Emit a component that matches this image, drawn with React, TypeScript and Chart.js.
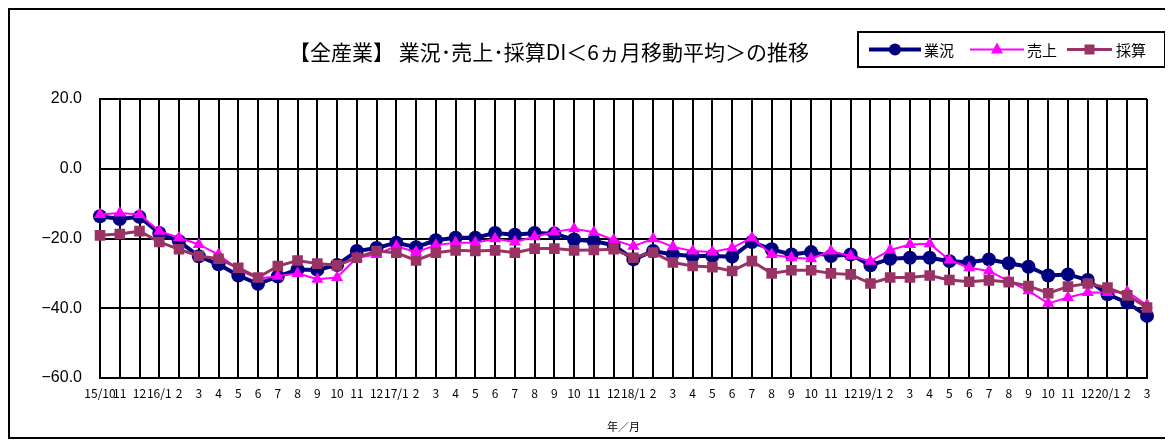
import React, { useEffect, useRef } from 'react';
import { Chart, registerables } from 'chart.js';

Chart.register(...registerables);

const labels = [
  '15/10', '11', '12',
  '16/1', '2', '3', '4', '5', '6', '7', '8', '9', '10', '11', '12',
  '17/1', '2', '3', '4', '5', '6', '7', '8', '9', '10', '11', '12',
  '18/1', '2', '3', '4', '5', '6', '7', '8', '9', '10', '11', '12',
  '19/1', '2', '3', '4', '5', '6', '7', '8', '9', '10', '11', '12',
  '20/1', '2', '3',
];

const gyokyo = [
  -13.6, -14.4, -13.8, -18.4, -20.8, -25.1, -27.4, -30.6, -33.0, -30.9,
  -28.9, -29.0, -27.6, -23.6, -22.7, -21.2, -22.5, -20.5, -19.8, -19.8,
  -18.4, -18.9, -18.4, -18.6, -20.3, -20.8, -21.9, -26.0, -23.6, -24.6,
  -25.0, -25.0, -25.2, -21.0, -23.1, -24.6, -23.9, -25.0, -24.6, -27.7,
  -25.8, -25.5, -25.5, -26.5, -26.8, -26.0, -27.1, -28.1, -30.6, -30.3,
  -31.9, -36.0, -38.4, -42.2,
];

const uriage = [
  -13.1, -12.7, -13.1, -17.9, -19.8, -21.7, -24.6, -28.9, -31.5, -30.8,
  -30.0, -31.7, -31.2, -25.5, -24.6, -22.2, -23.9, -21.9, -21.2, -21.2,
  -20.1, -21.0, -19.5, -18.1, -17.2, -18.2, -20.4, -22.2, -20.1, -22.4,
  -23.6, -23.9, -22.7, -19.8, -24.6, -25.5, -25.8, -23.6, -25.0, -26.5,
  -23.3, -21.7, -21.5, -26.2, -28.4, -29.3, -32.2, -35.0, -38.6, -36.9,
  -35.5, -35.5, -35.3, -39.1,
];

const saisan = [
  -19.1, -18.7, -17.9, -21.0, -23.1, -25.0, -25.8, -28.4, -31.2, -27.9,
  -26.3, -27.2, -27.7, -25.5, -23.6, -24.1, -26.3, -24.1, -23.4, -23.6,
  -23.4, -24.1, -22.9, -22.9, -23.4, -23.3, -23.1, -25.5, -24.0, -26.9,
  -27.9, -28.2, -29.3, -26.5, -30.0, -29.1, -29.1, -30.0, -30.3, -32.9,
  -31.2, -31.2, -30.6, -31.9, -32.4, -32.0, -32.5, -33.6, -35.7, -33.8,
  -32.9, -34.1, -36.3, -39.8,
];

const seriesNames = ['業況', '売上', '採算'];
const titleText = '【全産業】 業況･売上･採算DI＜6ヵ月移動平均＞の推移';
const xTitle = '年／月';

const NAVY = '#000080';
const MAGENTA = '#FF00FF';
const PLUM = '#993366';
const JP = '"Noto Sans CJK JP", "Noto Sans", sans-serif';

const W = 1165;
const H = 433;

const decorPlugin = {
  id: 'decor',
  afterDraw(chart: any) {
    const ctx = chart.ctx as CanvasRenderingContext2D;
    ctx.save();
    // outer border
    ctx.strokeStyle = '#000';
    ctx.lineWidth = 2;
    ctx.strokeRect(1, 1, W - 4, H - 4);

    // title
    ctx.fillStyle = '#000';
    ctx.font = `21px ${JP}`;
    ctx.textAlign = 'center';
    ctx.textBaseline = 'middle';
    ctx.fillText(titleText, 541, 44);

    // legend box
    const bx = 850, by = 24, bw = 307, bh = 35;
    ctx.lineWidth = 2;
    ctx.strokeRect(bx, by, bw, bh);
    const cy = by + bh / 2;
    const items = [
      { x0: 861, x1: 913, color: NAVY, lw: 4, shape: 'circle', tx: 916 },
      { x0: 962, x1: 1016, color: MAGENTA, lw: 2, shape: 'triangle', tx: 1019 },
      { x0: 1059, x1: 1104, color: PLUM, lw: 3, shape: 'rect', tx: 1108 },
    ];
    items.forEach((it, i) => {
      ctx.strokeStyle = it.color;
      ctx.fillStyle = it.color;
      ctx.lineWidth = it.lw;
      ctx.beginPath();
      ctx.moveTo(it.x0, cy);
      ctx.lineTo(it.x1, cy);
      ctx.stroke();
      const mx = (it.x0 + it.x1) / 2;
      ctx.beginPath();
      if (it.shape === 'circle') {
        ctx.arc(mx, cy, 6, 0, Math.PI * 2);
      } else if (it.shape === 'triangle') {
        ctx.moveTo(mx, cy - 7);
        ctx.lineTo(mx + 6, cy + 4);
        ctx.lineTo(mx - 6, cy + 4);
        ctx.closePath();
      } else {
        ctx.rect(mx - 5, cy - 5, 10, 10);
      }
      ctx.fill();
      ctx.fillStyle = '#000';
      ctx.font = `15px ${JP}`;
      ctx.textAlign = 'left';
      ctx.textBaseline = 'middle';
      ctx.fillText(seriesNames[i], it.tx, cy + 1);
    });
    ctx.restore();
  },
};

export default function App() {
  const ref = useRef<HTMLCanvasElement | null>(null);

  useEffect(() => {
    if (!ref.current) return;
    const chart = new Chart(ref.current, {
      type: 'line',
      data: {
        labels,
        datasets: [
          {
            label: seriesNames[0],
            data: gyokyo,
            borderColor: NAVY,
            backgroundColor: NAVY,
            borderWidth: 4,
            pointStyle: 'circle',
            pointRadius: 7,
            pointBorderWidth: 0,
            tension: 0,
            order: 3,
          },
          {
            label: seriesNames[1],
            data: uriage,
            borderColor: MAGENTA,
            backgroundColor: MAGENTA,
            borderWidth: 2,
            pointStyle: 'triangle',
            pointRadius: 7,
            pointBorderWidth: 0,
            tension: 0,
            order: 2,
          },
          {
            label: seriesNames[2],
            data: saisan,
            borderColor: PLUM,
            backgroundColor: PLUM,
            borderWidth: 3,
            pointStyle: 'rect',
            pointRadius: 7.5,
            pointBorderWidth: 0,
            tension: 0,
            order: 1,
          },
        ],
      },
      options: {
        animation: false,
        responsive: true,
        maintainAspectRatio: false,
        layout: { padding: { left: 0, right: 26, top: 91, bottom: 0 } },
        plugins: {
          legend: { display: false },
          title: { display: false },
          tooltip: { enabled: false },
        },
        scales: {
          x: {
            offset: false,
            grid: { color: '#000', lineWidth: 2, drawTicks: false },
            border: { color: '#000', width: 2 },
            ticks: {
              autoSkip: false,
              maxRotation: 0,
              minRotation: 0,
              padding: 8,
              color: '#000',
              font: { family: JP, size: 12 },
            },
            title: {
              display: true,
              text: xTitle,
              color: '#000',
              font: { family: JP, size: 11 },
              padding: { top: 7, bottom: 8 },
            },
            afterFit: (scale: any) => {
              scale.height = 63;
            },
          },
          y: {
            min: -60,
            max: 20,
            grid: { color: '#000', lineWidth: 2, drawTicks: false },
            border: { color: '#000', width: 2 },
            ticks: {
              stepSize: 20,
              padding: 18,
              color: '#000',
              font: { family: '"Liberation Sans", Arial, sans-serif', size: 16 },
              callback: (v: any) => {
                const n = Number(v);
                const s = Math.abs(n).toFixed(1);
                return n < 0 ? '\u2212' + s : s;
              },
            },
            afterFit: (scale: any) => {
              scale.width = 92;
            },
          },
        },
      },
      plugins: [decorPlugin],
    });
    return () => chart.destroy();
  }, []);

  return (
    <div style={{ position: 'relative', width: W, height: H }}>
      <canvas ref={ref} />
    </div>
  );
}
